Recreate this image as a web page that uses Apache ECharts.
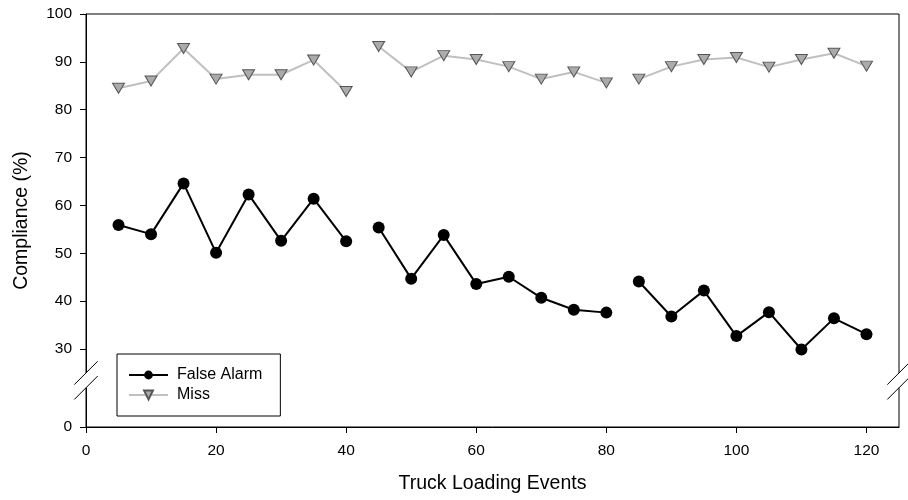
<!DOCTYPE html>
<html>
<head>
<meta charset="utf-8">
<title>Compliance by truck loading event</title>
<script src="https://cdn.jsdelivr.net/npm/echarts@6/dist/echarts.min.js"></script>
<style>
  html, body { margin: 0; padding: 0; background: #fff; }
  #chart { width: 908px; height: 500px; }
</style>
</head>
<body>
<div id="chart"></div>
<script>
// Loading event number (x) for every observation
const events = [5, 10, 15, 20, 25, 30, 35, 40,
                45, 50, 55, 60, 65, 70, 75, 80,
                85, 90, 95, 100, 105, 110, 115, 120];

// Compliance (%) after false alarms
const falseAlarm = [55.9, 54.0, 64.6, 50.1, 62.3, 52.6, 61.4, 52.5,
                    55.4, 44.7, 53.8, 43.6, 45.1, 40.7, 38.2, 37.6,
                    44.1, 36.8, 42.2, 32.7, 37.7, 29.9, 36.4, 33.1];

// Compliance (%) after misses
const miss = [84.5, 86.0, 92.8, 86.4, 87.3, 87.3, 90.4, 83.8,
              93.2, 87.9, 91.3, 90.5, 89.0, 86.4, 87.9, 85.6,
              86.4, 89.0, 90.5, 90.9, 88.9, 90.5, 91.8, 89.1];

// Index ranges of the three separate loading sessions (lines are not joined across sessions)
const sessions = [[0, 8], [8, 16], [16, 24]];

const xTicks = [0, 20, 40, 60, 80, 100, 120];
const yTicks = [0, 30, 40, 50, 60, 70, 80, 90, 100];

// Broken y axis: 30-100 is linear; the "0" tick sits on the axis floor below the break.
const Y_FLOOR = 13.7;
const BREAK_UPPER = 25.0;
const BREAK_LOWER = 21.9;
const toAxis = v => (v === 0 ? Y_FLOOR : v);

const FONT = '"Liberation Sans", Arial, Helvetica, sans-serif';

const chart = echarts.init(document.getElementById('chart'), null, { renderer: 'canvas' });

const seriesList = [];
sessions.forEach(([a, b]) => {
  seriesList.push({
    name: 'False Alarm',
    type: 'line',
    data: events.slice(a, b).map((x, i) => [x, falseAlarm[a + i]]),
    symbol: 'circle',
    symbolSize: 12,
    showAllSymbol: true,
    lineStyle: { color: '#000', width: 2 },
    itemStyle: { color: '#000', borderWidth: 0 },
    emphasis: { disabled: true },
    z: 3
  });
  seriesList.push({
    name: 'Miss',
    type: 'line',
    data: events.slice(a, b).map((x, i) => [x, miss[a + i]]),
    symbol: 'triangle',
    symbolRotate: 180,
    symbolSize: [12, 10],
    showAllSymbol: true,
    lineStyle: { color: '#c0c0c0', width: 2 },
    itemStyle: { color: '#ababab', borderColor: '#555', borderWidth: 1 },
    emphasis: { disabled: true },
    z: 2
  });
});

const yTickValues = yTicks.map(toAxis);

chart.setOption({
  animation: false,
  backgroundColor: '#fff',
  textStyle: { fontFamily: FONT },
  grid: {
    left: 86, right: 9, top: 14, bottom: 73,
    show: true, borderColor: '#000', borderWidth: 1, backgroundColor: 'transparent'
  },
  legend: {
    data: ['False Alarm', 'Miss'],
    orient: 'vertical',
    left: 117, top: 354,
    itemWidth: 39, itemHeight: 11, itemGap: 4,
    padding: [13, 18, 13, 11],
    borderColor: '#000', borderWidth: 1,
    selectedMode: false,
    textStyle: { fontFamily: FONT, fontSize: 16, color: '#000', lineHeight: 16, padding: [0, 0, 0, 4] }
  },
  xAxis: {
    type: 'value',
    min: 0, max: 125, interval: 20,
    name: 'Truck Loading Events',
    nameLocation: 'middle',
    nameGap: 47,
    nameTextStyle: { fontFamily: FONT, fontSize: 19.5, color: '#000' },
    axisLine: { show: true, onZero: false, lineStyle: { color: '#000', width: 1 } },
    axisTick: { show: true, inside: false, length: 6, lineStyle: { color: '#000' }, customValues: xTicks },
    axisLabel: { fontFamily: FONT, fontSize: 15.5, color: '#000', margin: 16, customValues: xTicks },
    splitLine: { show: false }
  },
  yAxis: {
    type: 'value',
    min: Y_FLOOR, max: 100,
    name: 'Compliance (%)',
    nameLocation: 'middle',
    nameGap: 54,
    nameTextStyle: { fontFamily: FONT, fontSize: 19.5, color: '#000' },
    axisLine: { show: true, onZero: false, lineStyle: { color: '#000', width: 1 } },
    axisTick: { show: true, inside: false, length: 6, lineStyle: { color: '#000' }, customValues: yTickValues },
    axisLabel: {
      fontFamily: FONT, fontSize: 15.5, color: '#000', margin: 14,
      customValues: yTickValues,
      formatter: v => (Math.abs(v - Y_FLOOR) < 1e-6 ? '0' : String(Math.round(v)))
    },
    splitLine: { show: false }
  },
  series: seriesList
});

// Axis-break marks on the left and right frame edges
const xLeft = chart.convertToPixel({ xAxisIndex: 0 }, 0);
const xRight = chart.convertToPixel({ xAxisIndex: 0 }, 125);
const yUp = chart.convertToPixel({ yAxisIndex: 0 }, BREAK_UPPER);
const yLow = chart.convertToPixel({ yAxisIndex: 0 }, BREAK_LOWER);
const half = 11.7;

const breakGraphics = [];
[xLeft, xRight].forEach(x => {
  breakGraphics.push({
    type: 'rect', silent: true, z: 100,
    shape: { x: x - 2, y: yUp, width: 4, height: yLow - yUp },
    style: { fill: '#fff' }
  });
  [yUp, yLow].forEach(y => {
    breakGraphics.push({
      type: 'line', silent: true, z: 101,
      shape: { x1: x - half, y1: y + half, x2: x + half, y2: y - half },
      style: { stroke: '#000', lineWidth: 1 }
    });
  });
});

chart.setOption({ graphic: breakGraphics });
</script>
</body>
</html>
